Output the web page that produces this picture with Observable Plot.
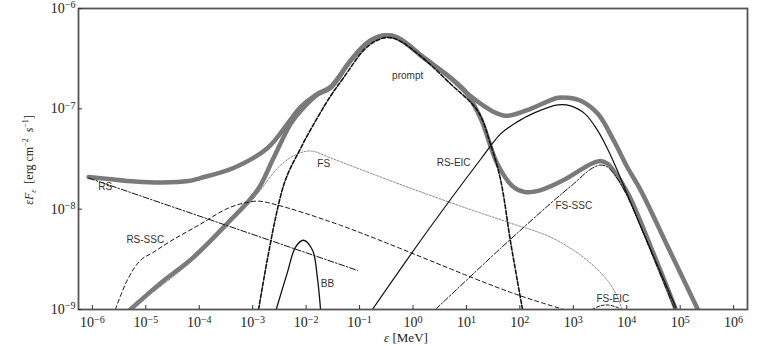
<!DOCTYPE html>
<html><head><meta charset="utf-8">
<script src="https://cdn.jsdelivr.net/npm/d3@7"></script>
<script src="https://cdn.jsdelivr.net/npm/@observablehq/plot@0.6"></script>
<style>body{margin:0;background:#fff} svg{display:block}</style>
</head><body><div id="chart"></div>
<script>
// All series as [log10(ε / MeV), log10(εF_ε / erg cm^-2 s^-1)]
const xTickExp = [-6,-5,-4,-3,-2,-1,0,1,2,3,4,5,6];
const yTickExp = [-9,-8,-7,-6];

const totalRS = [[-6.07,-7.68],[-5.7,-7.70],[-5.2,-7.725],[-4.7,-7.735],[-4.2,-7.72],[-3.98,-7.69],[-3.36,-7.59],[-2.72,-7.39],[-2.35,-7.15],[-2.10,-6.98],[-1.79,-6.85],[-1.54,-6.78],[-1.17,-6.52],[-0.85,-6.34],[-0.55,-6.27],[-0.29,-6.29],[0.2,-6.49],[0.7,-6.69],[1.0,-6.84],[1.27,-6.95],[1.55,-7.04],[1.77,-7.07],[2.2,-7.0],[2.5,-6.93],[2.71,-6.89],[2.9,-6.89],[3.14,-6.92],[3.46,-7.05],[3.76,-7.32],[4.02,-7.59],[4.26,-7.81],[4.8,-8.41],[5.33,-9.0]];
const totalFS = [[-5.29,-9.0],[-4.73,-8.74],[-4.11,-8.48],[-3.47,-8.14],[-2.91,-7.81],[-2.61,-7.49],[-2.29,-7.15],[-2.10,-7.02],[-1.79,-6.86],[-1.54,-6.79],[-1.17,-6.52],[-0.85,-6.34],[-0.55,-6.27],[-0.29,-6.29],[0.2,-6.49],[0.7,-6.69],[1.0,-6.84],[1.27,-7.10],[1.58,-7.55],[1.88,-7.78],[2.1,-7.83],[2.39,-7.81],[2.82,-7.71],[3.33,-7.55],[3.51,-7.52],[3.65,-7.55],[3.76,-7.62],[4.02,-7.84],[4.5,-8.44],[4.92,-9.0]];
const prompt = [[-2.89,-9.0],[-2.42,-7.76],[-2.10,-7.39],[-1.79,-7.09],[-1.54,-6.87],[-1.30,-6.69],[-0.93,-6.42],[-0.72,-6.33],[-0.5,-6.29],[-0.3,-6.31],[0.09,-6.45],[0.70,-6.75],[1.21,-7.02],[1.45,-7.35],[1.64,-7.71],[1.83,-8.34],[2.05,-9.0]];
const fs = [[-5.32,-9.0],[-4.7,-8.76],[-4.1,-8.5],[-3.5,-8.18],[-2.9,-7.84],[-2.55,-7.6],[-2.24,-7.47],[-1.92,-7.42],[-1.54,-7.49],[-1.0,-7.6],[0,-7.8],[1.0,-7.99],[1.83,-8.14],[2.58,-8.28],[3.19,-8.48],[3.64,-8.71],[3.83,-8.88],[3.91,-9.0]];
const rs = [[-6.07,-7.69],[-1.04,-8.61]];
const rsSSC = [[-5.57,-9.0],[-5.34,-8.70],[-5.10,-8.51],[-4.86,-8.43],[-4.54,-8.32],[-3.98,-8.15],[-3.5,-8.0],[-3.17,-7.94],[-2.9,-7.92],[-2.6,-7.95],[-1.36,-8.16],[1.83,-8.83],[2.82,-9.0]];
const bb = [[-2.56,-9.0],[-2.35,-8.63],[-2.2,-8.38],[-2.05,-8.31],[-1.88,-8.41],[-1.79,-8.68],[-1.73,-9.0]];
const rsEIC = [[-0.76,-9.0],[0.2,-8.27],[1.27,-7.50],[1.64,-7.25],[1.95,-7.13],[2.27,-7.04],[2.71,-6.96],[2.95,-6.97],[3.22,-7.05],[3.46,-7.22],[3.66,-7.42],[3.78,-7.56],[4.3,-8.22],[4.92,-8.98]];
const fsSSC = [[0.42,-9.0],[1.64,-8.39],[2.58,-7.94],[3.0,-7.75],[3.33,-7.6],[3.51,-7.56],[3.64,-7.58],[3.78,-7.66],[4.0,-7.86],[4.45,-8.42],[4.9,-9.0]];
const fsEIC = [[3.35,-9.0],[3.5,-8.965],[3.65,-8.955],[3.8,-8.975],[3.9,-9.0]];

const curveLabels = [
  {name:"prompt", lx:-0.10, ly:-6.67},
  {name:"FS", lx:-1.67, ly:-7.55},
  {name:"RS-EIC", lx:0.76, ly:-7.54},
  {name:"RS", lx:-5.76, ly:-7.78},
  {name:"RS-SSC", lx:-5.01, ly:-8.31},
  {name:"BB", lx:-1.60, ly:-8.74},
  {name:"FS-SSC", lx:3.01, ly:-7.97},
  {name:"FS-EIC", lx:3.74, ly:-8.89}
];

const rows = arr => arr.map(([lx, ly]) => ({x: 10 ** lx, y: 10 ** ly}));
const line = (arr, opts) => Plot.line(rows(arr), {x: "x", y: "y", curve: "catmull-rom", clip: true, ...opts});
const expFmt = d => "10^" + Math.round(Math.log10(d));

const chart = Plot.plot({
  width: 763, height: 346,
  marginLeft: 78, marginRight: 16, marginTop: 8, marginBottom: 37,
  style: {fontFamily: "'Liberation Serif', 'DejaVu Serif', serif", fontSize: "14px", background: "#fff", color: "#222"},
  x: {type: "log", domain: [10 ** -6.26, 10 ** 6.26]},
  y: {type: "log", domain: [1e-9, 1e-6]},
  marks: [
    line(totalRS, {stroke: "#7a7a7a", strokeWidth: 4.5}),
    line(totalFS, {stroke: "#7a7a7a", strokeWidth: 4.5}),
    line(fs, {stroke: "#8a8a8a", strokeWidth: 1, strokeDasharray: "2,1.5"}),
    line(rs, {stroke: "#111", strokeWidth: 1, strokeDasharray: "6,2,1.5,2"}),
    line(rsSSC, {stroke: "#111", strokeWidth: 1, strokeDasharray: "4,3"}),
    line(fsSSC, {stroke: "#111", strokeWidth: 1, strokeDasharray: "6,2,1.5,2"}),
    line(fsEIC, {stroke: "#111", strokeWidth: 1, strokeDasharray: "3,2"}),
    line(bb, {stroke: "#111", strokeWidth: 1.3}),
    line(rsEIC, {stroke: "#111", strokeWidth: 1.2}),
    line(prompt, {stroke: "#111", strokeWidth: 1.6, strokeDasharray: "4,2"}),
    Plot.text(curveLabels, {x: d => 10 ** d.lx, y: d => 10 ** d.ly, text: "name", fontFamily: "'Liberation Sans', Arial, sans-serif", fontSize: 10, fill: "#333"}),
    Plot.frame({stroke: "#555", strokeWidth: 1.8}),
    Plot.axisX(xTickExp.map(e => 10 ** e), {tickSize: -4, tickPadding: 12, tickFormat: expFmt, label: null, stroke: "#333"}),
    Plot.axisY(yTickExp.map(e => 10 ** e), {tickSize: -4, tickPadding: 7, tickFormat: expFmt, label: null, stroke: "#333"})
  ]
});

const svg = d3.select(chart);
svg.selectAll('g[aria-label="x-axis tick label"] text, g[aria-label="y-axis tick label"] text').each(function () {
  const parts = this.textContent.split("^");
  if (parts.length !== 2) return;
  const t = d3.select(this);
  this.textContent = "";
  t.append("tspan").text(parts[0]);
  t.append("tspan").attr("dy", "-0.45em").attr("font-size", "0.72em").text(parts[1].replace("-", "\u2212"));
});

svg.append("text")
  .attr("x", 406).attr("y", 342).attr("text-anchor", "middle")
  .attr("font-family", "'Liberation Serif', serif").attr("font-size", 13).attr("fill", "#222")
  .call(t => { t.append("tspan").attr("font-style", "italic").text("ε"); t.append("tspan").text(" [MeV]"); });

const yl = svg.append("text")
  .attr("transform", "translate(33,160) rotate(-90)").attr("text-anchor", "middle")
  .attr("font-family", "'Liberation Serif', serif").attr("font-size", 12).attr("fill", "#222");
yl.append("tspan").attr("font-style", "italic").text("εF");
yl.append("tspan").attr("font-style", "italic").attr("font-size", 8).attr("dy", "3").text("ε");
yl.append("tspan").attr("dy", "-3").text("  [erg cm");
yl.append("tspan").attr("font-size", 8).attr("dy", "-5").text("−2");
yl.append("tspan").attr("dy", "5").attr("font-style", "italic").text("  s");
yl.append("tspan").attr("font-size", 8).attr("dy", "-5").text("−1");
yl.append("tspan").attr("dy", "5").text("]");

document.getElementById("chart").append(chart);
</script>
</body></html>
